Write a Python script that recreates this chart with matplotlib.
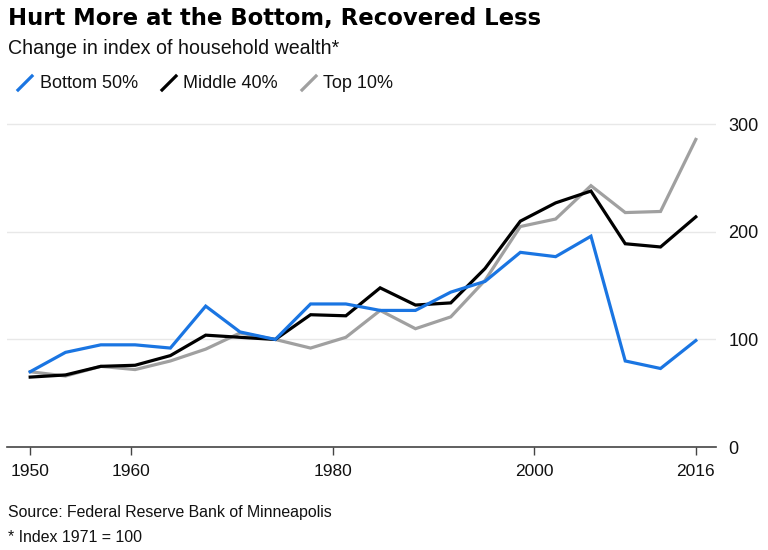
import matplotlib
matplotlib.use("Agg")
import matplotlib.pyplot as plt
from matplotlib.lines import Line2D

# x positions as drawn (points are evenly spaced across 1950-2016)
years = [1950, 1953.5, 1957, 1960.4, 1963.9, 1967.4, 1970.8, 1974.3, 1977.8, 1981.3,
         1984.7, 1988.2, 1991.7, 1995.1, 1998.6, 2002.1, 2005.6, 2009, 2012.5, 2016]

bottom_50 = [70, 88, 95, 95, 92, 131, 107, 100, 133, 133,
             127, 127, 144, 154, 181, 177, 196, 80, 73, 99]
middle_40 = [65, 67, 75, 76, 85, 104, 102, 100, 123, 122,
             148, 132, 134, 166, 210, 227, 238, 189, 186, 214]
top_10 = [70, 66, 75, 72, 80, 91, 106, 100, 92, 102,
          127, 110, 121, 155, 205, 212, 243, 218, 219, 286]

xticks = [1950, 1960, 1980, 2000, 2016]
yticks = [0, 100, 200, 300]

series = [("Bottom 50%", bottom_50, "#1a75e2"),
          ("Middle 40%", middle_40, "#000000"),
          ("Top 10%", top_10, "#a0a0a0")]

W, H = 768, 550


def px(x, y):
    # pixel position (from top-left) -> figure fraction
    return x / W, 1 - y / H


plt.rcParams['font.family'] = ['Liberation Sans', 'DejaVu Sans']

fig = plt.figure(figsize=(W / 100, H / 100), dpi=100)
ax = fig.add_axes([7 / W, 103 / H, 709 / W, 328 / H])

# draw order: top first so blue/black sit on top
for name, vals, col in series[::-1]:
    ax.plot(years, vals, color=col, lw=2.3, solid_joinstyle='miter', zorder=3)

ax.set_xlim(1947.7, 2018)
ax.set_ylim(0, 305)

ax.set_yticks(yticks)
ax.set_xticks(xticks)
ax.yaxis.tick_right()
ax.tick_params(axis='y', length=0, pad=9, labelsize=13, labelcolor='#111111')
ax.tick_params(axis='x', length=6, width=1, color='#444444', pad=6,
               labelsize=12.5, labelcolor='#111111')

for g in yticks[1:]:
    ax.axhline(g, color='#e8e8e8', lw=1, zorder=1)

for s in ['top', 'left', 'right']:
    ax.spines[s].set_visible(False)
ax.spines['bottom'].set_color('#444444')
ax.spines['bottom'].set_linewidth(1.2)

# title block
fig.text(*px(8, 19), "Hurt More at the Bottom, Recovered Less",
         fontsize=16.4, fontweight='bold', va='center', ha='left',
         family=['DejaVu Sans'])
fig.text(*px(8, 48), "Change in index of household wealth*",
         fontsize=14.1, va='center', ha='left', color='#111111')

# legend: slash swatches and labels
leg_slash_x = [18, 162, 302]
leg_text_x = [40, 183, 323]
for (name, _, col), sx, tx in zip(series, leg_slash_x, leg_text_x):
    fig.add_artist(Line2D([sx / W, (sx + 14) / W], [1 - 90 / H, 1 - 76 / H],
                          color=col, lw=2.3, transform=fig.transFigure))
    fig.text(*px(tx, 83), name, fontsize=13, va='center', ha='left',
             color='#111111')

# footer
fig.text(*px(8, 512), "Source: Federal Reserve Bank of Minneapolis",
         fontsize=11.4, va='center', ha='left', color='#111111')
fig.text(*px(8, 537), "* Index 1971 = 100",
         fontsize=11.4, va='center', ha='left', color='#111111')

fig.savefig("out.png", dpi=100)
